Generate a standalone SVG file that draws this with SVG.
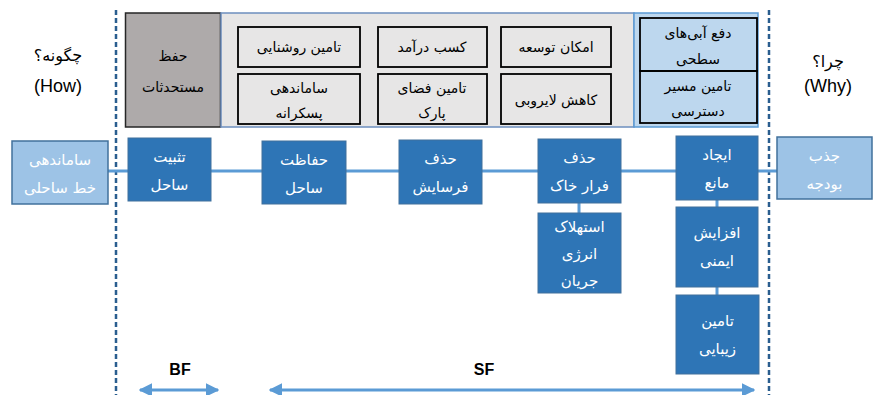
<svg xmlns="http://www.w3.org/2000/svg" width="873" height="395" viewBox="0 0 873 395">
<defs>
<marker id="ah" viewBox="0 0 10 10" refX="9" refY="5" markerWidth="4.5" markerHeight="4.5" orient="auto-start-reverse" markerUnits="strokeWidth">
<path d="M0,0 L10,5 L0,10 Z" fill="#5b9bd5"/>
</marker>
<style>
.fa{font-family:"DejaVu Sans",sans-serif;direction:rtl;unicode-bidi:embed;text-anchor:middle}
.dk{fill:#2e75b6;stroke:#41719c;stroke-width:1}
.lb{fill:#9dc3e6;stroke:#41719c;stroke-width:1.5}
.wt{fill:#ffffff;font-size:15px}
.bk{fill:#000000;font-size:14px}
.ib{fill:none;stroke:#000;stroke-width:1.8}
.con{stroke:#5b9bd5;stroke-width:3;fill:none}
.dash{stroke:#2a5e8f;stroke-width:2.5;stroke-dasharray:5,3;fill:none}
.en{font-family:"Liberation Sans",Arial,sans-serif;text-anchor:middle;fill:#000}
</style>
</defs>
<rect width="873" height="395" fill="#ffffff"/>

<g id="guides">
<line class="dash" x1="116" y1="10" x2="116" y2="395"/>
<line class="dash" x1="769" y1="10" x2="769" y2="395"/>
</g>

<g id="labels">
<text class="fa" x="58" y="61" font-size="16" fill="#000">چگونه؟</text>
<text class="en" x="58" y="92" font-size="18">(How)</text>
<text class="fa" x="828" y="67" font-size="16" fill="#000">چرا؟</text>
<text class="en" x="828" y="92" font-size="18">(Why)</text>
</g>

<g id="top-gray">
<rect x="125.5" y="13" width="95" height="114" fill="#aeaaaa" stroke="#262626" stroke-width="1.5"/>
<text class="fa bk" x="173" y="61">حفظ</text>
<text class="fa bk" x="173" y="92">مستحدثات</text>
</g>

<g id="top-container">
<rect x="221" y="13" width="413" height="114" fill="#e7e6e6" stroke="#6d8fbf" stroke-width="1.5"/>
</g>

<g id="n-roshanaei">
<rect class="ib" x="238" y="27" width="122" height="40"/>
<text class="fa bk" x="299" y="52">تامین روشنایی</text>
</g>
<g id="n-daramad">
<rect class="ib" x="378" y="27" width="109" height="40"/>
<text class="fa bk" x="432" y="52">کسب درآمد</text>
</g>
<g id="n-tose">
<rect class="ib" x="501" y="27" width="110" height="40"/>
<text class="fa bk" x="556" y="52">امکان توسعه</text>
</g>
<g id="n-pas">
<rect class="ib" x="238" y="74" width="122" height="50"/>
<text class="fa bk" x="299" y="93">ساماندهی</text>
<text class="fa bk" x="299" y="118">پسکرانه</text>
</g>
<g id="n-park">
<rect class="ib" x="378" y="74" width="109" height="50"/>
<text class="fa bk" x="432" y="93">تامین فضای</text>
<text class="fa bk" x="432" y="118">پارک</text>
</g>
<g id="n-layrubi">
<rect class="ib" x="501" y="74" width="110" height="50"/>
<text class="fa bk" x="556" y="105">کاهش لایروبی</text>
</g>

<g id="top-blue">
<rect x="634" y="13" width="124" height="114" fill="#bdd7ee" stroke="#5b9bd5" stroke-width="1.5"/>
</g>
<g id="n-dafe">
<rect class="ib" x="640" y="18" width="117" height="53"/>
<text class="fa bk" x="698" y="38">دفع آبی‌های</text>
<text class="fa bk" x="698" y="64">سطحی</text>
</g>
<g id="n-maseer">
<rect class="ib" x="640" y="71" width="117" height="52"/>
<text class="fa bk" x="698" y="91">تامین مسیر</text>
<text class="fa bk" x="698" y="116">دسترسی</text>
</g>

<g id="connectors">
<line class="con" x1="108" y1="171" x2="128" y2="171"/>
<line class="con" x1="211" y1="171" x2="262" y2="171"/>
<line class="con" x1="346" y1="171" x2="399" y2="171"/>
<line class="con" x1="482" y1="171" x2="538" y2="171"/>
<line class="con" x1="621" y1="171" x2="676" y2="171"/>
<line class="con" x1="758" y1="171" x2="777" y2="171" stroke-width="1.5"/>
<line class="con" x1="579" y1="203" x2="579" y2="213"/>
<line class="con" x1="717" y1="200" x2="717" y2="207"/>
<line class="con" x1="717" y1="287" x2="717" y2="295"/>
<line class="con" x1="140" y1="390" x2="218" y2="390" marker-start="url(#ah)" marker-end="url(#ah)"/>
<line class="con" x1="270" y1="390" x2="754" y2="390" marker-start="url(#ah)" marker-end="url(#ah)"/>
</g>

<g id="n-sahel-line">
<rect class="lb" x="12" y="141" width="96" height="63"/>
<text class="fa wt" x="60" y="165">ساماندهی</text>
<text class="fa wt" x="60" y="193">خط ساحلی</text>
</g>
<g id="n-tasbit">
<rect class="dk" x="128" y="138" width="83" height="63"/>
<text class="fa wt" x="169.5" y="162">تثبیت</text>
<text class="fa wt" x="169.5" y="190">ساحل</text>
</g>
<g id="n-hefazat">
<rect class="dk" x="262" y="141" width="84" height="63"/>
<text class="fa wt" x="304" y="165">حفاظت</text>
<text class="fa wt" x="304" y="193">ساحل</text>
</g>
<g id="n-farsayesh">
<rect class="dk" x="399" y="140" width="83" height="64"/>
<text class="fa wt" x="440.5" y="164">حذف</text>
<text class="fa wt" x="440.5" y="192">فرسایش</text>
</g>
<g id="n-khak">
<rect class="dk" x="538" y="139" width="83" height="64"/>
<text class="fa wt" x="579.5" y="163">حذف</text>
<text class="fa wt" x="579.5" y="191">فرار خاک</text>
</g>
<g id="n-estehlak">
<rect class="dk" x="538" y="213" width="83" height="80"/>
<text class="fa wt" x="579.5" y="232">استهلاک</text>
<text class="fa wt" x="579.5" y="259">انرژی</text>
<text class="fa wt" x="579.5" y="286">جریان</text>
</g>
<g id="n-mane">
<rect class="dk" x="676" y="136" width="82" height="64"/>
<text class="fa wt" x="717" y="160">ایجاد</text>
<text class="fa wt" x="717" y="188">مانع</text>
</g>
<g id="n-imeni">
<rect class="dk" x="676" y="207" width="82" height="80"/>
<text class="fa wt" x="717" y="238">افزایش</text>
<text class="fa wt" x="717" y="266">ایمنی</text>
</g>
<g id="n-zibaei">
<rect class="dk" x="676" y="295" width="83" height="79"/>
<text class="fa wt" x="717.5" y="326">تامین</text>
<text class="fa wt" x="717.5" y="354">زیبایی</text>
</g>
<g id="n-budje">
<rect class="lb" x="777" y="137" width="95" height="62"/>
<text class="fa wt" x="824.5" y="161">جذب</text>
<text class="fa wt" x="824.5" y="189">بودجه</text>
</g>

<g id="scale-labels">
<text class="en" x="180" y="375" font-size="16" font-weight="bold">BF</text>
<text class="en" x="484" y="375" font-size="16" font-weight="bold">SF</text>
</g>
</svg>
